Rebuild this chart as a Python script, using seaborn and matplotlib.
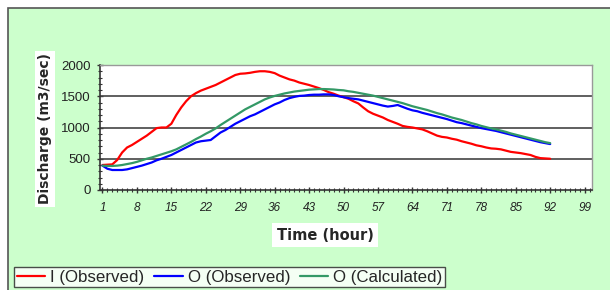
import numpy as np
import pandas as pd
import matplotlib
matplotlib.use("Agg")
import matplotlib.pyplot as plt
import seaborn as sns
from matplotlib.patches import Rectangle
from matplotlib.ticker import MultipleLocator

hours = list(range(1, 93))
inflow_observed = [400, 405, 410, 480, 600, 680, 720, 770, 820, 870, 930, 990, 1000, 1000, 1060, 1200,
                   1320, 1420, 1500, 1550, 1590, 1620, 1650, 1680, 1720, 1760, 1800, 1840, 1860, 1865,
                   1875, 1890, 1900, 1900, 1890, 1870, 1830, 1800, 1770, 1750, 1720, 1700, 1680, 1655,
                   1630, 1600, 1565, 1540, 1510, 1485, 1460, 1420, 1385, 1320, 1260, 1220, 1190, 1160,
                   1120, 1090, 1060, 1025, 1010, 1000, 985, 970, 940, 905, 870, 850, 840, 820, 805, 780,
                   760, 740, 715, 700, 680, 665, 660, 650, 630, 610, 600, 590, 575, 560, 530, 510, 505, 500]
outflow_observed = [390, 340, 320, 320, 320, 330, 350, 370, 390, 415, 440, 475, 500, 530, 560, 600,
                    640, 680, 720, 760, 780, 790, 800, 860, 920, 960, 1010, 1060, 1100, 1140, 1180, 1210,
                    1250, 1290, 1330, 1370, 1400, 1440, 1470, 1490, 1505, 1510, 1520, 1525, 1525, 1530,
                    1530, 1520, 1500, 1485, 1470, 1460, 1450, 1430, 1410, 1390, 1370, 1350, 1335, 1345,
                    1360, 1330, 1300, 1275, 1260, 1235, 1215, 1195, 1175, 1155, 1135, 1110, 1085, 1070,
                    1050, 1030, 1010, 990, 975, 960, 945, 925, 905, 885, 865, 845, 825, 805, 785, 765, 750, 735]
outflow_calculated = [390, 385, 385, 390, 400, 415, 430, 450, 475, 500, 520, 545, 570, 595, 620, 650,
                      690, 730, 770, 815, 855, 900, 940, 985, 1040, 1090, 1140, 1190, 1240, 1290, 1330,
                      1370, 1410, 1450, 1480, 1505, 1525, 1545, 1560, 1575, 1585, 1595, 1605, 1610, 1615,
                      1615, 1612, 1608, 1600, 1595, 1580, 1570, 1555, 1540, 1525, 1510, 1490, 1470, 1450,
                      1430, 1410, 1390, 1365, 1340, 1320, 1300, 1280, 1255, 1230, 1210, 1185, 1160, 1140,
                      1120, 1095, 1070, 1050, 1025, 1005, 985, 970, 950, 930, 905, 885, 865, 845, 825, 805,
                      785, 765, 750]
series_names = ["I (Observed)", "O (Observed)", "O (Calculated)"]
x_tick_labels = list(range(1, 100, 7))
y_ticks = [0, 500, 1000, 1500, 2000]

df = pd.DataFrame({
    "hour": hours * 3,
    "value": inflow_observed + outflow_observed + outflow_calculated,
    "series": [series_names[0]] * len(hours) + [series_names[1]] * len(hours) + [series_names[2]] * len(hours),
})

sns.set_style("white")
plt.rcParams["font.family"] = ["Liberation Sans", "DejaVu Sans"]

W, H = 610, 290
fig = plt.figure(figsize=(W / 100, H / 100), dpi=100)
fig.patch.set_facecolor("white")
# green chart area with dark frame
fig.patches.append(Rectangle((8 / W, -0.01), 1 - 8 / W + 0.01, 1 - 7.5 / H + 0.01, transform=fig.transFigure,
                             facecolor="#ccffcc", edgecolor="#555555", linewidth=1.2, zorder=-5))

ax = fig.add_axes([100 / W, 1 - 190 / H, (592 - 100) / W, (190 - 65) / H])
ax.set_zorder(2)
ax.set_facecolor("white")

palette = {series_names[0]: "#ff0000", series_names[1]: "#0000ff", series_names[2]: "#339966"}
sns.lineplot(data=df, x="hour", y="value", hue="series", palette=palette, ax=ax,
             linewidth=1.6, legend=True, zorder=3)

ax.set_xlim(0.5, 100.5)
ax.set_ylim(0, 2000)
ax.set_yticks(y_ticks)
ax.set_yticklabels([str(v) for v in y_ticks], fontsize=9.5, color="#222222")
ax.yaxis.set_minor_locator(MultipleLocator(100))
ax.set_xticks(x_tick_labels)
ax.set_xticklabels([str(v) for v in x_tick_labels], fontsize=8.5, style="italic", color="#222222")
ax.xaxis.set_minor_locator(MultipleLocator(1))
ax.tick_params(axis="both", which="major", direction="inout", length=5, width=1, color="#333333",
               left=True, bottom=True)
ax.tick_params(axis="both", which="minor", direction="inout", length=3, width=0.8, color="#333333",
               left=True, bottom=True)
ax.tick_params(axis="x", which="major", pad=6)
ax.tick_params(axis="y", which="major", pad=4)

for v in y_ticks[1:]:
    ax.axhline(v, color="#444444", linewidth=1.2, zorder=1)

for side in ["top", "right"]:
    ax.spines[side].set_color("#999999")
    ax.spines[side].set_linewidth(1)
for side in ["left", "bottom"]:
    ax.spines[side].set_color("#333333")
    ax.spines[side].set_linewidth(1.2)

ax.set_xlabel("")
ax.set_ylabel("")
fig.text(45 / W, 1 - 129 / H, "Discharge (m3/sec)", rotation=90, ha="center", va="center",
         fontsize=10, fontweight="bold", family="DejaVu Sans",
         bbox=dict(facecolor="white", edgecolor="none", pad=2))
fig.text(325 / W, 1 - 235 / H, "Time (hour)", ha="center", va="center",
         fontsize=10.5, fontweight="bold", family="DejaVu Sans",
         bbox=dict(facecolor="white", edgecolor="none", pad=3))

handles, labels = ax.get_legend_handles_labels()
ax.get_legend().remove()
leg = fig.legend(handles, labels, loc="upper left", bbox_to_anchor=(14 / W, 1 - 267 / H),
                 ncol=3, fontsize=12.2, frameon=True, fancybox=False, borderaxespad=0,
                 handlelength=1.7, handletextpad=0.3, columnspacing=0.55, borderpad=0.15)
leg.get_frame().set_edgecolor("#222222")
leg.get_frame().set_linewidth(1)
leg.get_frame().set_facecolor("white")
for line in leg.get_lines():
    line.set_linewidth(1.6)

fig.savefig("out.png", dpi=100)
